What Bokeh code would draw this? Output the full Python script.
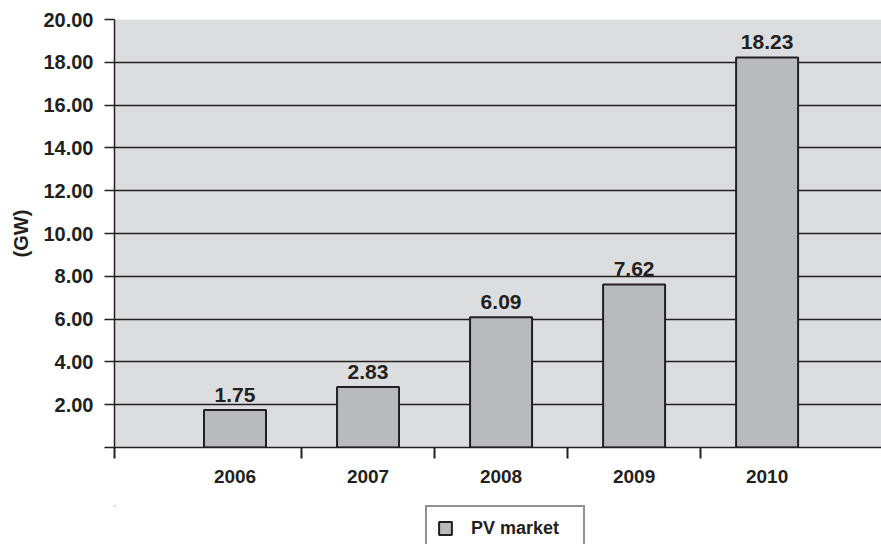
from bokeh.plotting import figure
from bokeh.layouts import column
from bokeh.models import (Range1d, FixedTicker, Legend, LegendItem, ColumnDataSource,
                          NumeralTickFormatter, CDSView, IndexFilter)
from bokeh.core.properties import value
from bokeh.embed import file_html
from bokeh.resources import INLINE

years = ["2006", "2007", "2008", "2009", "2010"]
pv_market = [1.75, 2.83, 6.09, 7.62, 18.23]
value_labels = ["1.75", "2.83", "6.09", "7.62", "18.23"]
y_ticks = [0, 2, 4, 6, 8, 10, 12, 14, 16, 18, 20]

INK = "#231f20"
FONT = "Liberation Sans"
BAR = "#b9babd"

xpos = [i + 0.5 for i in range(len(years))]
src = ColumnDataSource(dict(x=xpos, top=pv_market, lab=value_labels))

x_start, x_end = -0.406, 5.36
p = figure(width=881, height=505, output_backend="svg", toolbar_location=None,
           x_range=Range1d(x_start, x_end), y_range=Range1d(0, 20))
p.min_border_left = 114
p.min_border_right = 0
p.min_border_top = 19
p.min_border_bottom = 58
p.background_fill_color = "#dcdddf"
p.border_fill_color = "white"
p.outline_line_color = None

bars = p.vbar(x="x", top="top", width=0.466, source=src,
              fill_color=BAR, line_color=INK, line_width=2)
p.text(x="x", y="top", text="lab", source=src, y_offset=-15,
       text_align="center", text_baseline="alphabetic",
       text_font=value(FONT), text_font_style="bold",
       text_font_size="21px", text_color=INK)

# grid
p.xgrid.visible = False
p.ygrid.ticker = FixedTicker(ticks=y_ticks)
p.ygrid.grid_line_color = INK
p.ygrid.grid_line_width = 1.5

# y axis
ya = p.yaxis[0]
ya.ticker = FixedTicker(ticks=y_ticks)
ya.formatter = NumeralTickFormatter(format="0.00")
ya.major_label_overrides = {0: ""}
ya.major_tick_out = 10
ya.major_tick_in = 0
ya.minor_tick_out = 0
ya.minor_tick_in = 0
ya.major_tick_line_color = INK
ya.major_tick_line_width = 1.5
ya.axis_line_color = INK
ya.axis_line_width = 1.5
ya.major_label_standoff = 11
ya.major_label_text_font = FONT
ya.major_label_text_font_style = "bold"
ya.major_label_text_font_size = "20px"
ya.major_label_text_color = INK
ya.axis_label = "(GW)"
ya.axis_label_text_font = FONT
ya.axis_label_text_font_style = "bold"
ya.axis_label_text_font_size = "20px"
ya.axis_label_text_color = INK
ya.axis_label_standoff = 8

# x axis
xa = p.xaxis[0]
xa.ticker = FixedTicker(ticks=xpos, minor_ticks=[x_start, 1, 2, 3, 4])
xa.major_label_overrides = {xv: y for xv, y in zip(xpos, years)}
xa.major_tick_out = 0
xa.major_tick_in = 0
xa.minor_tick_out = 11
xa.minor_tick_in = 0
xa.minor_tick_line_color = INK
xa.minor_tick_line_width = 2
xa.axis_line_color = INK
xa.axis_line_width = 1.5
xa.major_label_standoff = 11
xa.major_label_text_font = FONT
xa.major_label_text_font_style = "bold"
xa.major_label_text_font_size = "19px"
xa.major_label_text_color = INK

# legend strip (below the chart); its sample bar lies outside the strip's visible ranges
lg = figure(width=881, height=39, output_backend="svg", toolbar_location=None,
            x_range=Range1d(100, 101), y_range=Range1d(-200, -100),
            x_axis_location=None, y_axis_location=None)
lg.min_border_left = lg.min_border_right = lg.min_border_top = lg.min_border_bottom = 0
lg.outline_line_color = None
lg.xgrid.visible = False
lg.ygrid.visible = False
lg.background_fill_color = "white"
lg.border_fill_color = "white"
leg_bars = lg.vbar(x="x", top="top", width=0.466, source=src,
                   view=CDSView(filter=IndexFilter([0])),
                   fill_color=BAR, line_color=INK, line_width=2)

legend = Legend(items=[LegendItem(label="PV market", renderers=[leg_bars])],
                location=(311, -7), orientation="horizontal",
                padding=10, glyph_width=16, glyph_height=16, label_height=22,
                label_standoff=18, label_width=102,
                border_line_color=INK, border_line_width=2,
                background_fill_color="white", background_fill_alpha=1,
                label_text_font=FONT, label_text_font_style="bold",
                label_text_font_size="18px", label_text_color=INK, margin=0)
lg.add_layout(legend, "center")

layout = column(p, lg, spacing=0)
open("out.html", "w").write(file_html(layout, INLINE))
